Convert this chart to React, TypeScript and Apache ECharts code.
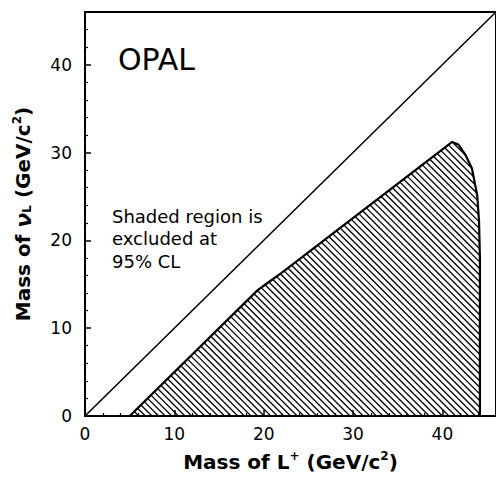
import React, { useEffect, useRef } from "react";
import * as echarts from "echarts";

// Excluded region boundary (M_L+, M_nu) in GeV/c^2
const excludedX = [5, 19.3, 20.5, 22, 41.1, 41.8, 42.6, 43.3, 43.9, 44.1, 44.2, 44.2];
const excludedY = [0, 14.3, 15.2, 16.3, 31.2, 30.9, 29.7, 28.2, 25.1, 22.2, 18, 0];
// Kinematic limit M_nu = M_L
const limitX = [0, 46];
const limitY = [0, 46];
const xTicks = [0, 10, 20, 30, 40];
const yTicks = [0, 10, 20, 30, 40];
const noteLines = ["Shaded region is", "excluded at", "95% CL"];

const FONT = "DejaVu Sans";

export default function App() {
  const ref = useRef<HTMLDivElement>(null);
  useEffect(() => {
    if (!ref.current) return;
    const chart = echarts.init(ref.current, null, { renderer: "svg" });
    const step = 6.6;
    const option: any = {
      animation: false,
      backgroundColor: "#fff",
      textStyle: { fontFamily: FONT },
      grid: {
        left: 85,
        top: 12,
        width: 414,
        height: 408,
        show: true,
        borderColor: "#000",
        borderWidth: 2,
        backgroundColor: "transparent",
      },
      xAxis: {
        type: "value",
        min: 0,
        max: 46,
        interval: 10,
        name: "Mass of L{sup|+} (GeV/c{sup|2})",
        nameLocation: "middle",
        nameGap: 34,
        nameTextStyle: {
          fontFamily: FONT,
          fontSize: 20,
          fontWeight: "bold",
          color: "#000",
          rich: {
            sup: { fontSize: 12, fontWeight: "bold", padding: [0, 0, 12, 0], fontFamily: FONT, color: "#000" },
          },
        },
        axisLine: { show: true, onZero: false, lineStyle: { color: "#000", width: 2 } },
        axisTick: { show: true, inside: true, length: 6, lineStyle: { color: "#000", width: 1.5 } },
        minorTick: { show: true, splitNumber: 5, length: 3, lineStyle: { color: "#000", width: 1.2 } },
        splitLine: { show: false },
        axisLabel: {
          margin: 9,
          fontSize: 17,
          color: "#000",
          fontFamily: FONT,
          showMaxLabel: false,
          formatter: (v: number) => (xTicks.includes(v) ? String(v) : ""),
        },
      },
      yAxis: {
        type: "value",
        min: 0,
        max: 46,
        interval: 10,
        name: "Mass of {nu|ν}{sub|L} (GeV/c{sup|2})",
        nameLocation: "middle",
        nameGap: 50,
        nameRotate: 90,
        nameTextStyle: {
          fontFamily: FONT,
          fontSize: 20,
          fontWeight: "bold",
          color: "#000",
          rich: {
            nu: { fontSize: 22, fontStyle: "italic", fontWeight: "bold", fontFamily: FONT, color: "#000" },
            sub: { fontSize: 12, fontWeight: "bold", padding: [8, 0, 0, 0], fontFamily: FONT, color: "#000" },
            sup: { fontSize: 12, fontWeight: "bold", padding: [0, 0, 12, 0], fontFamily: FONT, color: "#000" },
          },
        },
        axisLine: { show: true, onZero: false, lineStyle: { color: "#000", width: 2 } },
        axisTick: { show: true, inside: true, length: 6, lineStyle: { color: "#000", width: 1.5 } },
        minorTick: { show: true, splitNumber: 5, length: 3, lineStyle: { color: "#000", width: 1.2 } },
        splitLine: { show: false },
        axisLabel: {
          margin: 13,
          fontSize: 17,
          color: "#000",
          fontFamily: FONT,
          showMaxLabel: false,
          formatter: (v: number) => (yTicks.includes(v) ? String(v) : ""),
        },
      },
      series: [
        {
          type: "line",
          data: limitX.map((x, i) => [x, limitY[i]]),
          symbol: "none",
          lineStyle: { color: "#000", width: 1.6 },
          silent: true,
        },
        {
          type: "custom",
          data: [[excludedX[0], excludedY[0]]],
          clip: true,
          silent: true,
          renderItem: (_params: any, api: any) => {
            const pts: number[][] = excludedX.map((x, i) => api.coord([x, excludedY[i]]));
            let minC = Infinity;
            let maxC = -Infinity;
            pts.forEach((p) => {
              const c = p[0] - p[1];
              if (c < minC) minC = c;
              if (c > maxC) maxC = c;
            });
            const children: any[] = [];
            for (let c = Math.ceil(minC / step) * step; c <= maxC; c += step) {
              const hits: number[][] = [];
              for (let i = 0; i < pts.length; i++) {
                const a = pts[i];
                const b = pts[(i + 1) % pts.length];
                const fa = a[0] - a[1] - c;
                const fb = b[0] - b[1] - c;
                if ((fa <= 0 && fb > 0) || (fa > 0 && fb <= 0)) {
                  const t = fa / (fa - fb);
                  hits.push([a[0] + t * (b[0] - a[0]), a[1] + t * (b[1] - a[1])]);
                }
              }
              hits.sort((p, q) => p[0] - q[0]);
              for (let k = 0; k + 1 < hits.length; k += 2) {
                children.push({
                  type: "line",
                  shape: { x1: hits[k][0], y1: hits[k][1], x2: hits[k + 1][0], y2: hits[k + 1][1] },
                  style: { stroke: "#000", lineWidth: 1.3 },
                });
              }
            }
            children.push({
              type: "polygon",
              shape: { points: pts },
              style: { fill: "none", stroke: "#000", lineWidth: 2.2, lineJoin: "round" },
            });
            return { type: "group", children };
          },
        },
      ],
      graphic: [
        {
          type: "text",
          left: 118,
          top: 44,
          style: { text: "OPAL", fontFamily: FONT, fontSize: 30, fill: "#000" },
        },
        {
          type: "text",
          left: 112,
          top: 205,
          style: {
            text: noteLines.join("\n"),
            fontFamily: FONT,
            fontSize: 18,
            lineHeight: 22.5,
            fill: "#000",
          },
        },
      ],
    };
    chart.setOption(option);
    return () => chart.dispose();
  }, []);
  return (
    <div
      ref={ref}
      style={{ position: "absolute", left: 0, top: 0, width: 496, height: 477, background: "#fff" }}
    />
  );
}
